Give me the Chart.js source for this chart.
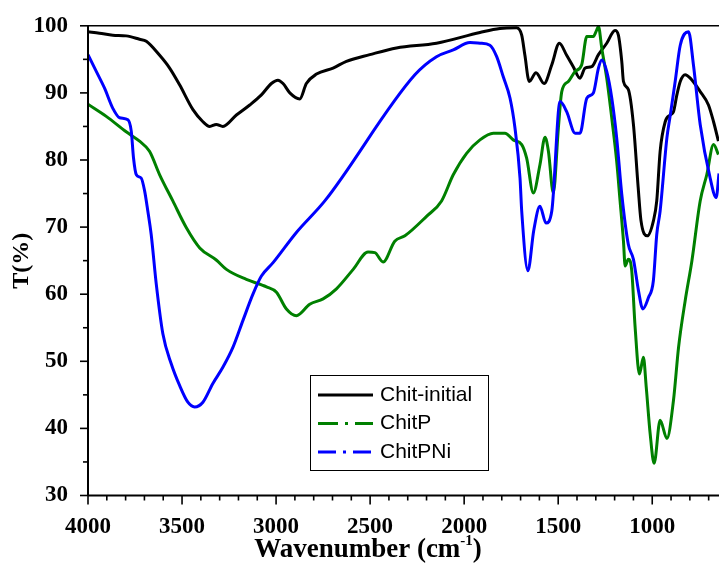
<!DOCTYPE html>
<html><head><meta charset="utf-8">
<script src="https://cdn.jsdelivr.net/npm/chart.js@4.4.0/dist/chart.umd.min.js"></script>
<style>html,body{margin:0;padding:0;background:#fff}#wrap{width:719px;height:566px;position:relative}</style>
</head><body><div id="wrap"><canvas id="c" width="719" height="566"></canvas></div>
<script>
const xTicks = [4000, 3500, 3000, 2500, 2000, 1500, 1000];
const yTicks = [30, 40, 50, 60, 70, 80, 90, 100];
const seriesNames = ['Chit-initial', 'ChitP', 'ChitPNi'];

const chitInitialWn = [4000,3939,3868,3797,3726,3690,3619,3566,3513,3442,3389,3353,3318,3283,3211,3140,3078,3025,2990,2963,2927,2874,2839,2785,2697,2626,2502,2360,2147,1916,1810,1721,1694,1677,1654,1618,1575,1534,1494,1455,1420,1384,1357,1322,1286,1242,1198,1180,1162,1153,1127,1100,1075,1060,1026,994,976,958,931,905,887,869,851,825,798,745,701,674,648];
const chitInitialT = [99.1,98.9,98.6,98.5,98.0,97.7,95.6,93.7,91.2,87.5,85.7,85.0,85.3,85.0,86.7,88.2,89.7,91.4,91.9,91.4,90.0,89.1,91.4,92.8,93.7,94.7,95.7,96.7,97.4,99.0,99.6,99.7,98.6,95.6,91.7,93.0,91.4,94.2,97.4,95.6,93.9,92.2,93.7,93.9,95.7,97.4,99.3,98.6,94.7,91.7,90.5,85.3,76.0,71.0,68.7,70.9,73.9,81.3,85.7,86.7,87.2,89.7,91.7,92.7,92.2,90.2,88.2,85.7,82.8];

const chitPWn = [4000,3903,3797,3726,3673,3619,3549,3477,3406,3318,3264,3158,3051,2998,2945,2892,2821,2750,2679,2590,2511,2475,2431,2369,2315,2200,2120,2058,1987,1916,1845,1783,1739,1694,1668,1632,1597,1570,1552,1526,1499,1481,1446,1410,1375,1348,1313,1295,1286,1268,1242,1215,1189,1171,1153,1144,1127,1109,1091,1068,1047,1032,1011,990,958,922,887,860,825,789,745,710,674,648];
const chitPT = [88.3,86.5,84.2,82.8,81.3,77.8,73.9,69.9,66.9,65.1,63.7,62.2,61.1,60.3,57.8,56.8,58.5,59.3,60.8,63.7,66.3,66.2,64.8,67.9,68.7,71.6,73.9,77.8,81.0,83.0,84.0,84.0,83.0,82.3,80.3,75.1,79.3,83.4,81.3,75.1,84.8,90.2,91.7,93.2,94.2,98.4,98.4,99.4,99.9,96.6,92.2,86.2,79.8,73.9,67.9,64.2,65.2,63.5,55.1,48.1,50.6,46.2,39.2,34.8,41.2,38.5,44.2,52.1,59.0,65.0,73.9,77.8,82.3,80.8];

const chitPNiWn = [4000,3956,3912,3868,3832,3788,3770,3758,3743,3717,3699,3682,3664,3637,3602,3557,3513,3469,3433,3389,3336,3283,3229,3176,3123,3078,3016,2892,2741,2262,2147,2058,1969,1916,1863,1827,1792,1756,1730,1703,1694,1661,1630,1597,1565,1534,1490,1455,1410,1384,1348,1313,1286,1268,1242,1215,1189,1162,1127,1100,1073,1050,1020,994,976,958,922,905,878,851,807,781,745,692,660,645];
const chitPNiT = [95.7,93.2,90.7,87.7,86.3,86.0,84.3,80.3,77.8,77.3,75.4,72.4,68.9,61.5,54.1,49.6,46.4,43.9,43.2,43.9,46.7,49.1,52.1,56.1,60.0,62.7,64.7,69.2,73.9,92.7,95.4,96.4,97.5,97.4,97.1,95.4,92.4,89.2,84.8,77.3,72.4,63.5,69.5,73.1,70.6,72.4,88.7,87.2,84.0,84.0,89.2,90.0,93.7,94.9,93.2,89.2,83.3,74.9,67.4,65.2,60.5,57.8,59.5,62.0,68.9,72.4,83.3,86.5,91.7,97.1,99.1,94.2,85.3,77.3,74.4,78.0];

const toPts = (xs, ys) => xs.map((w, i) => ({x: w, y: ys[i]}));
const colors = ['#000000', '#008000', '#0000ff'];
const dashes = [[], [20, 7, 3, 7], [18, 7, 3, 7]];

const framePlugin = {
  id: 'frame',
  afterDraw(chart) {
    const {ctx, chartArea: a, scales: {x, y}} = chart;
    const line = (x1, y1, x2, y2) => { ctx.beginPath(); ctx.moveTo(x1, y1); ctx.lineTo(x2, y2); ctx.stroke(); };
    ctx.save();
    ctx.strokeStyle = '#000';
    ctx.lineWidth = 1.5;
    line(a.left, a.top, a.right, a.top);
    ctx.lineWidth = 2;
    line(a.left, a.top, a.left, a.bottom);
    line(a.left, a.bottom, a.right, a.bottom);
    ctx.lineWidth = 1.6;
    for (let v = 4000; v >= x.min; v -= 100) {
      const px = x.getPixelForValue(v);
      const len = v % 500 === 0 ? 9 : 5;
      line(px, a.bottom, px, a.bottom + len);
    }
    for (let v = 30; v <= 100; v += 5) {
      const py = y.getPixelForValue(v);
      const len = v % 10 === 0 ? 8 : 5;
      line(a.left - len, py, a.left, py);
    }
    // axis titles
    ctx.fillStyle = '#000';
    ctx.textBaseline = 'alphabetic';
    ctx.textAlign = 'left';
    const big = 'bold 27px "Liberation Serif", "Times New Roman", serif';
    const small = 'bold 15px "Liberation Serif", "Times New Roman", serif';
    const p1 = 'Wavenumber (cm', p2 = '-1', p3 = ')';
    ctx.font = big; const w1 = ctx.measureText(p1).width, w3 = ctx.measureText(p3).width;
    ctx.font = small; const w2 = ctx.measureText(p2).width;
    const total = w1 + w2 + w3;
    let tx = 368 - total / 2; const base = 557;
    ctx.font = big; ctx.fillText(p1, tx, base); tx += w1;
    ctx.font = small; ctx.fillText(p2, tx, base - 12); tx += w2;
    ctx.font = big; ctx.fillText(p3, tx, base);
    ctx.save();
    ctx.translate(22, (a.top + a.bottom) / 2);
    ctx.rotate(-Math.PI / 2);
    ctx.textAlign = 'center'; ctx.textBaseline = 'middle';
    ctx.font = 'bold 24px "Liberation Serif", "Times New Roman", serif';
    ctx.fillText('T(%)', 0, 0);
    ctx.restore();
    // legend
    const bx = 310.5, by = 375.5, bw = 178, bh = 95;
    ctx.fillStyle = '#fff'; ctx.fillRect(bx, by, bw, bh);
    ctx.lineWidth = 1; ctx.strokeStyle = '#000'; ctx.strokeRect(bx, by, bw, bh);
    ctx.font = '21px "Liberation Sans", Arial, sans-serif';
    ctx.textAlign = 'left'; ctx.textBaseline = 'middle';
    chart.data.datasets.forEach((ds, i) => {
      const ry = 395 + i * 28.5;
      ctx.strokeStyle = ds.borderColor; ctx.lineWidth = 3;
      ctx.setLineDash(dashes[i]);
      line(318, ry, 373, ry);
      ctx.setLineDash([]);
      ctx.fillStyle = '#000';
      ctx.fillText(ds.label, 380, ry);
    });
    ctx.restore();
  }
};

const tickFont = {family: '"Liberation Serif", "Times New Roman", serif', weight: 'bold', size: 23};

new Chart(document.getElementById('c'), {
  type: 'line',
  data: {
    datasets: [
      {label: seriesNames[0], data: toPts(chitInitialWn, chitInitialT), borderColor: colors[0], order: 3},
      {label: seriesNames[1], data: toPts(chitPWn, chitPT), borderColor: colors[1], order: 2},
      {label: seriesNames[2], data: toPts(chitPNiWn, chitPNiT), borderColor: colors[2], order: 1}
    ].map(d => Object.assign(d, {borderWidth: 3, pointRadius: 0, fill: false, cubicInterpolationMode: 'monotone'}))
  },
  options: {
    responsive: false,
    animation: false,
    devicePixelRatio: 1,
    layout: {padding: {top: 24, right: 0, bottom: 0, left: 0}},
    plugins: {legend: {display: false}, tooltip: {enabled: false}},
    scales: {
      x: {
        type: 'linear', reverse: true, min: 645, max: 4000,
        afterBuildTicks: s => { s.ticks = xTicks.map(v => ({value: v})); },
        afterFit: s => { s.height = 70.5; },
        grid: {display: false}, border: {display: false},
        ticks: {font: tickFont, color: '#000', padding: 10, maxRotation: 0, autoSkip: false, callback: v => String(v)}
      },
      y: {
        type: 'linear', min: 30, max: 100,
        afterBuildTicks: s => { s.ticks = yTicks.map(v => ({value: v})); },
        afterFit: s => { s.width = 88; },
        grid: {display: false}, border: {display: false},
        ticks: {font: tickFont, color: '#000', padding: 12, callback: v => String(v)}
      }
    }
  },
  plugins: [framePlugin]
});
</script></body></html>
